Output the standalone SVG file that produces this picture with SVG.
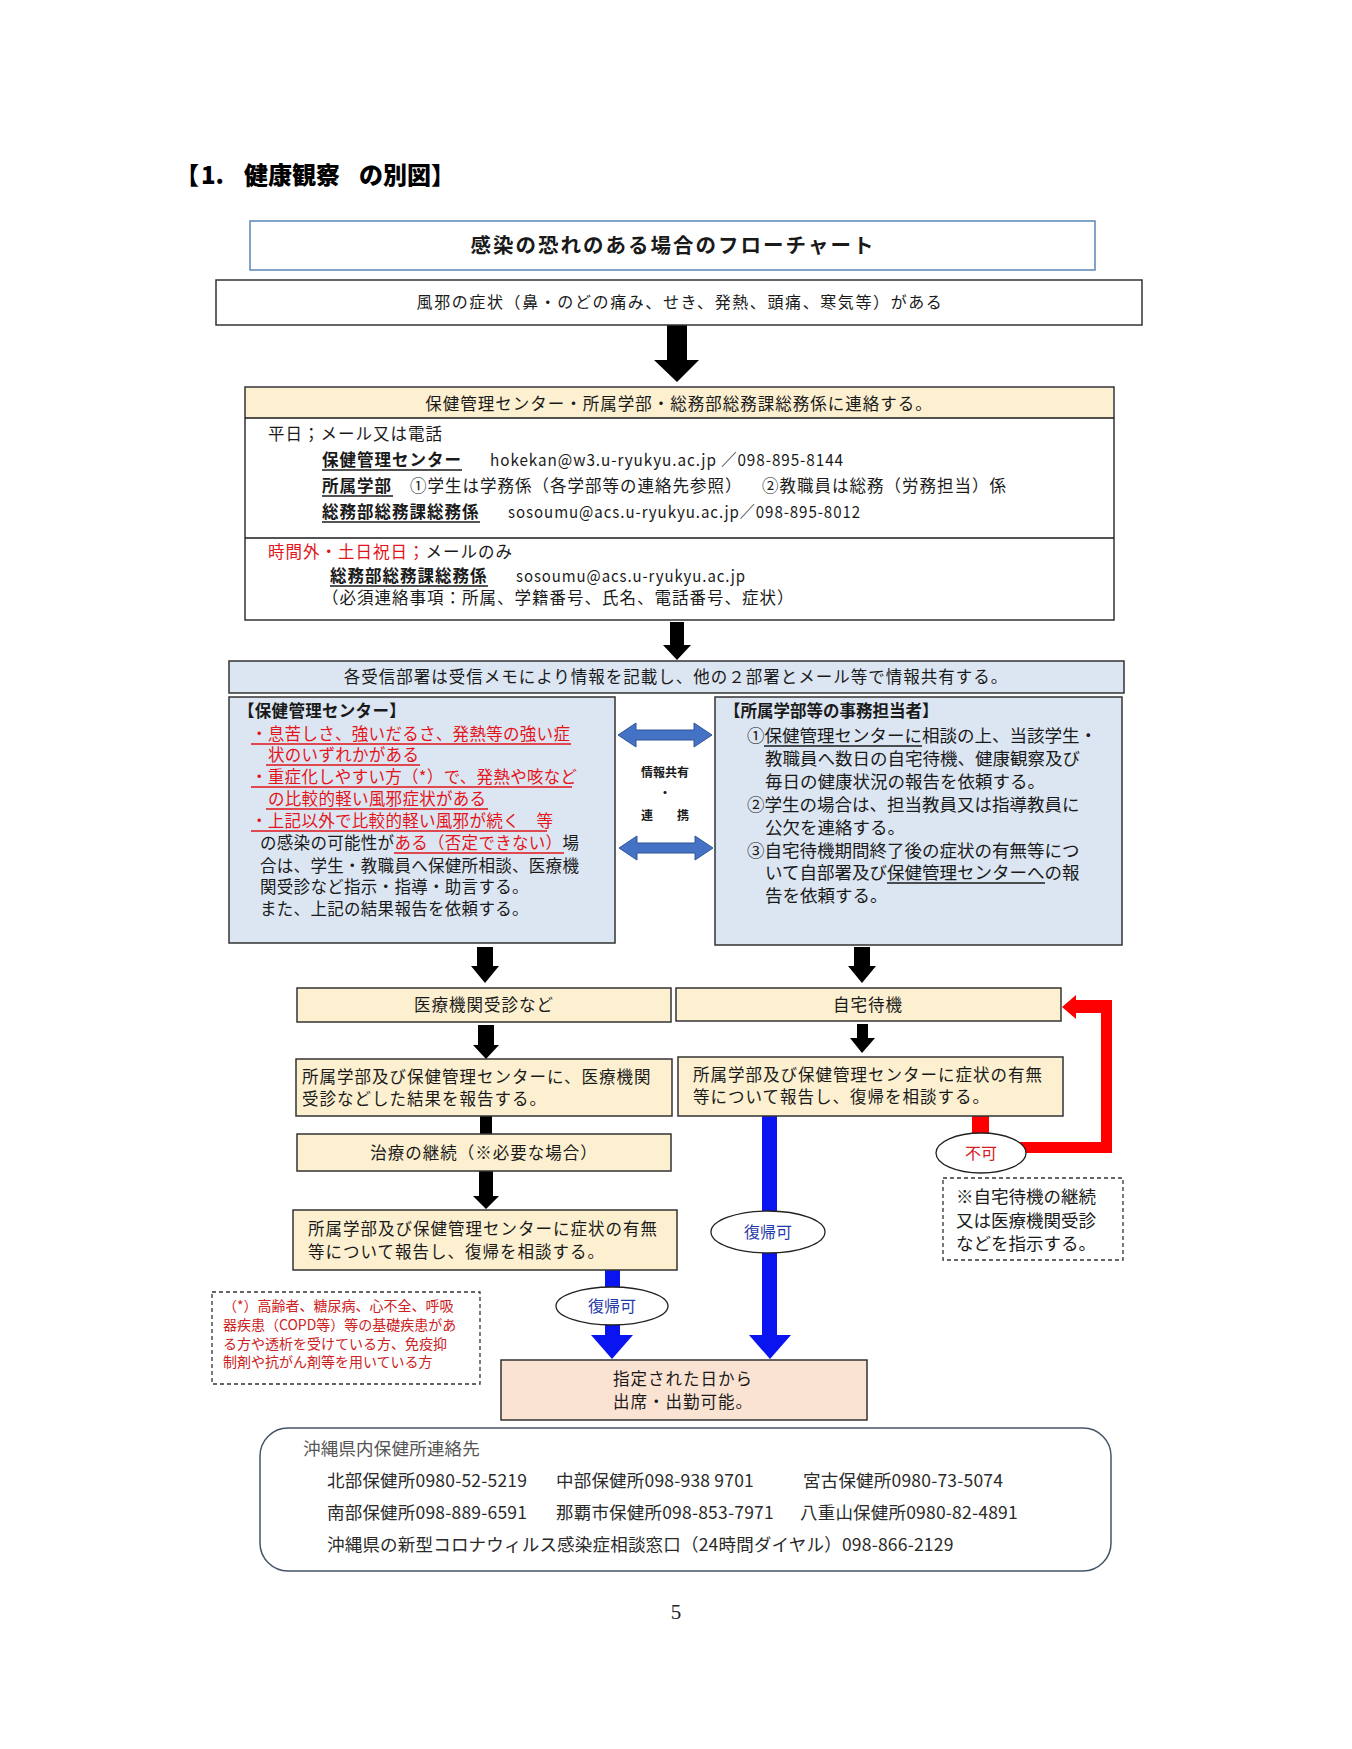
<svg xmlns="http://www.w3.org/2000/svg" width="1352" height="1749" viewBox="0 0 1352 1749">
<style>
.t{font-family:'Noto Sans CJK JP','Noto Sans CJK SC',sans-serif;font-size:16.5px;letter-spacing:1px;fill:#1a1a1a}
.b{font-weight:bold}
.c{text-anchor:middle}
.red{fill:#e3151b}
.box{stroke:#333;stroke-width:1.5}
.beige{fill:#fcf0d0}
.blue{fill:#dce6f2}
.white{fill:#fff}
.ulk{stroke:#1a1a1a;stroke-width:1.3}
.ulr{stroke:#e3151b;stroke-width:1.3}
.dash{fill:#fff;stroke:#333;stroke-width:1.3;stroke-dasharray:4 3}
.blk{fill:#000}
.bl{fill:#0a14f0}
.rd{fill:#ff0000}
.dbl{fill:#4472c4;stroke:#2f5597;stroke-width:1}
.ell{fill:#fff;stroke:#222;stroke-width:1.3}
.g{font-family:'Noto Sans CJK JP',sans-serif;font-size:17.5px;letter-spacing:0.2px;fill:#2a2a2a}
</style>
<rect width="1352" height="1749" fill="#fff"/>

<text class="t" style="font-size:24px;letter-spacing:0;font-weight:900;fill:#000" y="184"><tspan x="175">【</tspan><tspan x="201">1.</tspan><tspan x="244">健康観察</tspan><tspan x="359">の別図】</tspan></text>

<g id="connectors">
  <!-- black arrows -->
  <polygon class="blk" points="667,325 687,325 687,360 699,360 677,382 654,360 667,360"/>
  <polygon class="blk" points="670,622 684,622 684,645 691,645 677,660 663,645 670,645"/>
  <polygon class="blk" points="477,947 493,947 493,966 499,966 485,983 471,966 477,966"/>
  <polygon class="blk" points="854,947 870,947 870,966 876,966 862,983 848,966 854,966"/>
  <polygon class="blk" points="478,1025 494,1025 494,1045 499,1045 486,1059 473,1045 478,1045"/>
  <polygon class="blk" points="857,1024 868,1024 868,1038 875,1038 862,1053 850,1038 857,1038"/>
  <rect class="blk" x="480" y="1116" width="12" height="18"/>
  <polygon class="blk" points="479,1171 493,1171 493,1196 499,1196 486,1209 473,1196 479,1196"/>
  <!-- double arrows -->
  <polygon class="dbl" points="618,735 636,723 636,730 694,730 694,723 712,735 694,747 694,740 636,740 636,747"/>
  <polygon class="dbl" points="619,848 637,836 637,843 695,843 695,836 713,848 695,860 695,853 637,853 637,860"/>
  <!-- blue arrows -->
  <rect class="bl" x="605" y="1270" width="15" height="66"/>
  <polygon class="bl" points="591,1335 633,1335 612,1359"/>
  <rect class="bl" x="762" y="1116" width="15" height="220"/>
  <polygon class="bl" points="749,1335 791,1335 770,1359"/>
  <!-- red return arrow -->
  <rect class="rd" x="972" y="1116" width="17" height="20"/>
  <polygon class="rd" points="1015,1142 1101,1142 1101,1013 1076,1013 1076,1019 1062,1007 1076,995 1076,1000 1112,1000 1112,1153 1015,1153"/>
</g>

<g id="title">
  <rect x="250" y="221" width="845" height="49" fill="#fff" stroke="#5b86b8" stroke-width="1.5"/>
  <text class="t b c" x="673" y="253" style="font-size:20.5px;letter-spacing:2px">感染の恐れのある場合のフローチャート</text>
</g>

<g id="symptoms">
  <rect class="box white" x="216" y="280" width="926" height="45"/>
  <text class="t c" x="680" y="308" style="font-size:16px;letter-spacing:1.6px">風邪の症状（鼻・のどの痛み、せき、発熱、頭痛、寒気等）がある</text>
</g>

<g id="contact">
  <rect class="box white" x="245" y="387" width="869" height="233"/>
  <rect class="beige" x="246" y="388" width="867" height="30"/>
  <line class="ulk" x1="245" y1="418" x2="1114" y2="418"/>
  <line class="ulk" x1="245" y1="538" x2="1114" y2="538"/>
  <text class="t c" x="679" y="410">保健管理センター・所属学部・総務部総務課総務係に連絡する。</text>
  <text class="t" x="268" y="440">平日；メール又は電話</text>
  <text class="t b" x="322" y="466">保健管理センター</text>
  <line class="ulk" x1="322" y1="470" x2="462" y2="470"/>
  <text class="t" x="490" y="466" textLength="354" lengthAdjust="spacingAndGlyphs">hokekan@w3.u-ryukyu.ac.jp ／098-895-8144</text>
  <text class="t b" x="322" y="492">所属学部</text>
  <line class="ulk" x1="322" y1="496" x2="393" y2="496"/>
  <text class="t" x="410" y="492">①学生は学務係（各学部等の連絡先参照）</text>
  <text class="t" x="762" y="492">②教職員は総務（労務担当）係</text>
  <text class="t b" x="322" y="518">総務部総務課総務係</text>
  <line class="ulk" x1="322" y1="522" x2="480" y2="522"/>
  <text class="t" x="508" y="518" textLength="353" lengthAdjust="spacingAndGlyphs">sosoumu@acs.u-ryukyu.ac.jp／098-895-8012</text>
  <text class="t" x="268" y="558"><tspan class="red">時間外・土日祝日；</tspan>メールのみ</text>
  <text class="t b" x="330" y="582">総務部総務課総務係</text>
  <line class="ulk" x1="330" y1="586" x2="488" y2="586"/>
  <text class="t" x="516" y="582" textLength="230" lengthAdjust="spacingAndGlyphs">sosoumu@acs.u-ryukyu.ac.jp</text>
  <text class="t" x="322" y="604">（必須連絡事項：所属、学籍番号、氏名、電話番号、症状）</text>
</g>

<g id="share">
  <rect class="box blue" x="229" y="661" width="895" height="32"/>
  <text class="t c" x="676" y="683">各受信部署は受信メモにより情報を記載し、他の２部署とメール等で情報共有する。</text>
</g>

<g id="health-center">
  <rect class="box blue" x="229" y="697" width="386" height="246"/>
  <g class="t" style="letter-spacing:0.3px">
    <text class="b" x="238" y="717">【保健管理センター】</text>
    <text class="red" x="251" y="740">・息苦しさ、強いだるさ、発熱等の強い症</text>
    <text class="red" x="268" y="761">状のいずれかがある</text>
    <text class="red" x="251" y="783">・重症化しやすい方（*）で、発熱や咳など</text>
    <text class="red" x="268" y="805">の比較的軽い風邪症状がある</text>
    <text class="red" x="251" y="827">・上記以外で比較的軽い風邪が続く　等</text>
    <text x="260" y="849">の感染の可能性が<tspan class="red">ある（否定できない）</tspan>場</text>
    <text x="260" y="872">合は、学生・教職員へ保健所相談、医療機</text>
    <text x="260" y="893">関受診など指示・指導・助言する。</text>
    <text x="260" y="915">また、上記の結果報告を依頼する。</text>
  </g>
  <line class="ulr" x1="251" y1="744" x2="571" y2="744"/>
  <line class="ulr" x1="266" y1="765" x2="420" y2="765"/>
  <line class="ulr" x1="251" y1="787" x2="572" y2="787"/>
  <line class="ulr" x1="266" y1="809" x2="488" y2="809"/>
  <line class="ulr" x1="251" y1="831" x2="547" y2="831"/>
  <line class="ulr" x1="394" y1="853" x2="564" y2="853"/>
</g>

<g id="share-label">
  <text class="t b c" x="665" y="777" style="font-size:12px;letter-spacing:0">情報共有</text>
  <text class="t b c" x="665" y="798" style="font-size:12px;letter-spacing:0">・</text>
  <text class="t b c" x="665" y="820" style="font-size:12px;letter-spacing:0">連　　携</text>
</g>

<g id="faculty-office">
  <rect class="box blue" x="715" y="697" width="407" height="248"/>
  <text class="t b" x="724" y="717" style="letter-spacing:0">【所属学部等の事務担当者】</text>
  <g class="t" style="font-size:17.5px;letter-spacing:0">
    <text x="747" y="742">①保健管理センターに相談の上、当該学生・</text>
    <text x="765" y="765">教職員へ数日の自宅待機、健康観察及び</text>
    <text x="765" y="788">毎日の健康状況の報告を依頼する。</text>
    <text x="747" y="811">②学生の場合は、担当教員又は指導教員に</text>
    <text x="765" y="834">公欠を連絡する。</text>
    <text x="747" y="857">③自宅待機期間終了後の症状の有無等につ</text>
    <text x="765" y="879">いて自部署及び保健管理センターへの報</text>
    <text x="765" y="902">告を依頼する。</text>
  </g>
  <line class="ulk" x1="764" y1="746" x2="922" y2="746"/>
  <line class="ulk" x1="887" y1="883" x2="1045" y2="883"/>
</g>

<g id="medical">
  <rect class="box beige" x="297" y="988" width="374" height="34"/>
  <text class="t c" x="484" y="1011">医療機関受診など</text>
</g>
<g id="home-wait">
  <rect class="box beige" x="676" y="988" width="385" height="33"/>
  <text class="t c" x="868" y="1011">自宅待機</text>
</g>
<g id="report-medical">
  <rect class="box beige" x="296" y="1059" width="376" height="57"/>
  <text class="t" x="302" y="1083">所属学部及び保健管理センターに、医療機関</text>
  <text class="t" x="302" y="1105">受診などした結果を報告する。</text>
</g>
<g id="report-home">
  <rect class="box beige" x="678" y="1057" width="385" height="59"/>
  <text class="t" x="693" y="1081">所属学部及び保健管理センターに症状の有無</text>
  <text class="t" x="693" y="1103">等について報告し、復帰を相談する。</text>
</g>
<g id="treatment">
  <rect class="box beige" x="297" y="1134" width="374" height="37"/>
  <text class="t c" x="484" y="1159">治療の継続（※必要な場合）</text>
</g>
<g id="report-left">
  <rect class="box beige" x="293" y="1210" width="384" height="60"/>
  <text class="t" x="308" y="1235">所属学部及び保健管理センターに症状の有無</text>
  <text class="t" x="308" y="1258">等について報告し、復帰を相談する。</text>
</g>

<g id="ok-left">
  <ellipse class="ell" cx="612" cy="1306" rx="56" ry="19"/>
  <text class="t c" x="612" y="1312" style="fill:#1f3aa8;font-size:16px;letter-spacing:0">復帰可</text>
</g>
<g id="ok-right">
  <ellipse class="ell" cx="768" cy="1232" rx="57" ry="21"/>
  <text class="t c" x="768" y="1238" style="fill:#1f3aa8;font-size:16px;letter-spacing:0">復帰可</text>
</g>
<g id="ng">
  <ellipse class="ell" cx="981" cy="1153" rx="45" ry="20"/>
  <text class="t c" x="981" y="1159" style="fill:#d42020;font-size:16px;letter-spacing:0">不可</text>
</g>

<g id="ng-note">
  <rect class="dash" x="943" y="1178" width="180" height="82"/>
  <text class="t" x="956" y="1203" style="font-size:17.5px;letter-spacing:0">※自宅待機の継続</text>
  <text class="t" x="956" y="1227" style="font-size:17.5px;letter-spacing:0">又は医療機関受診</text>
  <text class="t" x="956" y="1250" style="font-size:17.5px;letter-spacing:0">などを指示する。</text>
</g>

<g id="risk-note">
  <rect class="dash" x="212" y="1292" width="268" height="92"/>
  <g class="t" style="font-size:14px;letter-spacing:0;fill:#cc2222">
    <text x="223" y="1311">（*）高齢者、糖尿病、心不全、呼吸</text>
    <text x="223" y="1330">器疾患（COPD等）等の基礎疾患があ</text>
    <text x="223" y="1349">る方や透析を受けている方、免疫抑</text>
    <text x="223" y="1367">制剤や抗がん剤等を用いている方</text>
  </g>
</g>

<g id="return">
  <rect x="501" y="1360" width="366" height="60" fill="#fae3d2" stroke="#333" stroke-width="1.5"/>
  <text class="t" x="613" y="1385">指定された日から</text>
  <text class="t" x="613" y="1408">出席・出勤可能。</text>
</g>

<g id="contacts">
  <rect x="260" y="1428" width="851" height="143" rx="28" fill="#fff" stroke="#44546a" stroke-width="1.5"/>
  <text class="g" x="303" y="1455" style="fill:#555">沖縄県内保健所連絡先</text>
  <text class="g" x="327" y="1487">北部保健所0980-52-5219</text>
  <text class="g" x="556" y="1487">中部保健所098-938 9701</text>
  <text class="g" x="803" y="1487">宮古保健所0980-73-5074</text>
  <text class="g" x="327" y="1519">南部保健所098-889-6591</text>
  <text class="g" x="556" y="1519">那覇市保健所098-853-7971</text>
  <text class="g" x="800" y="1519">八重山保健所0980-82-4891</text>
  <text class="g" x="327" y="1551">沖縄県の新型コロナウィルス感染症相談窓口（24時間ダイヤル）098-866-2129</text>
</g>

<text x="676" y="1619" text-anchor="middle" font-family="'Liberation Serif',serif" font-size="21" fill="#222">5</text>
</svg>
